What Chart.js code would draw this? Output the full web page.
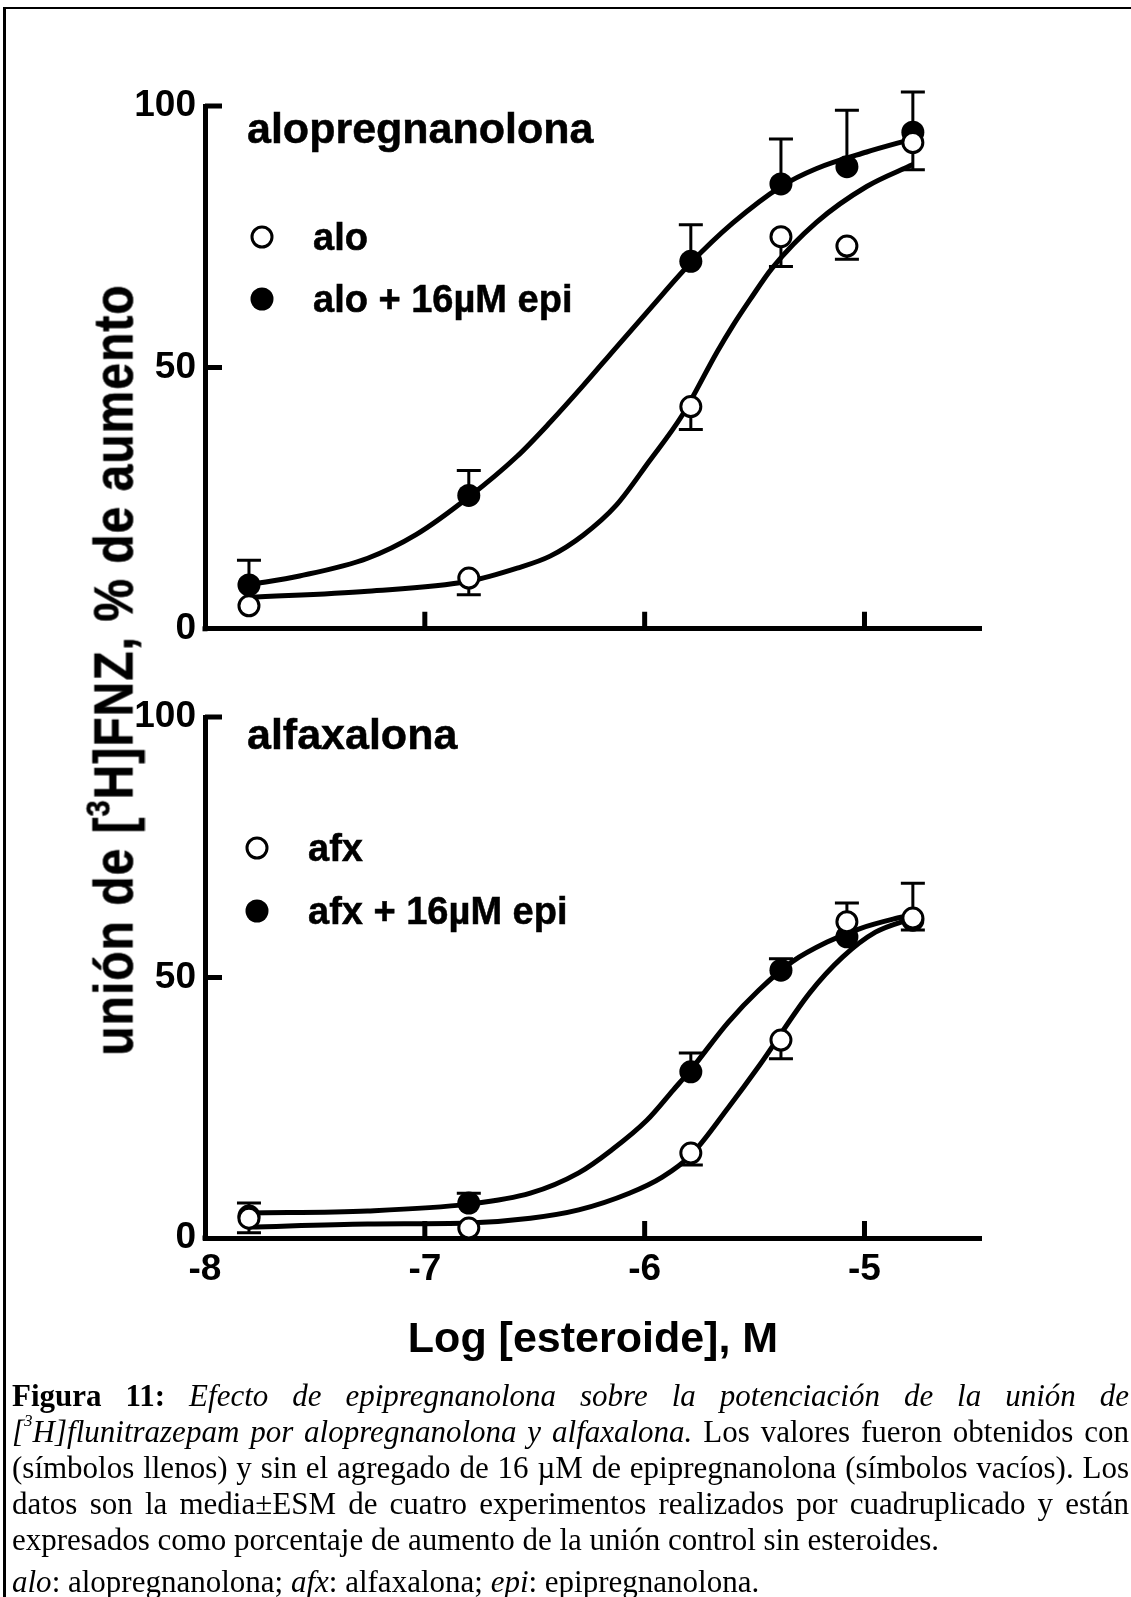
<!DOCTYPE html>
<html>
<head>
<meta charset="utf-8">
<script src="https://cdn.jsdelivr.net/npm/chart.js@4.4.1/dist/chart.umd.min.js"></script>
<style>
  html, body { margin: 0; padding: 0; background: #fff; }
  #page { position: relative; width: 1131px; height: 1597px; overflow: hidden; background: #fff; color: #000;
          font-family: 'Liberation Sans', Arial, Helvetica, sans-serif; }
  canvas { position: absolute; left: 0; }
  .t { position: absolute; white-space: nowrap; font-weight: bold; line-height: 1; transform: translateY(-50%);
       -webkit-text-stroke: 0.5px #000; }
  .ptitle { font-size: 43px; }
  .leg { font-size: 38px; }
  .mk { position: absolute; border-radius: 50%; box-sizing: border-box; transform: translate(-50%, -50%); }
  .mk.open { width: 23px; height: 23px; border: 3px solid #000; background: #fff; }
  .mk.fill { width: 23px; height: 23px; background: #000; }
  #ytitle { position: absolute; left: 114px; top: 670px; white-space: nowrap; font-weight: bold; font-size: 48px;
            letter-spacing: 1px; line-height: 1; -webkit-text-stroke: 0.5px #000;
            transform: translate(-50%, -50%) rotate(-90deg) scale(1, 1.15); }
  #ytitle sup { font-size: 0.6em; position: relative; top: -0.15em; vertical-align: top; line-height: 1; }
  #caption { position: absolute; left: 12px; top: 1378px; width: 1117px; font-family: 'Liberation Serif', 'Times New Roman', serif;
             font-size: 31px; line-height: 36px; }
  #caption .j { text-align: justify; text-align-last: justify; }
  #caption .l { text-align: left; }
  #caption sup { font-size: 0.55em; vertical-align: top; position: relative; top: -0.1em; line-height: 1; }
  .bline { position: absolute; background: #000; }
</style>
</head>
<body>
<div id="page">
  <canvas id="cTop" width="1131" height="660" style="top:0px"></canvas>
  <canvas id="cBot" width="1131" height="740" style="top:660px"></canvas>

  <div class="bline" style="left:4px; top:7px; width:1127px; height:2px;"></div>
  <div class="bline" style="left:3px; top:7px; width:3px; height:1590px;"></div>

  <div class="t ptitle" style="left:247px; top:128px;">alopregnanolona</div>
  <div class="mk open" style="left:262px; top:237px;"></div>
  <div class="t leg" style="left:313px; top:237px;">alo</div>
  <div class="mk fill" style="left:262px; top:299px;"></div>
  <div class="t leg" style="left:313px; top:299px;">alo + 16µM epi</div>

  <div class="t ptitle" style="left:247px; top:734px;">alfaxalona</div>
  <div class="mk open" style="left:257px; top:848px;"></div>
  <div class="t leg" style="left:308px; top:848px;">afx</div>
  <div class="mk fill" style="left:257px; top:911px;"></div>
  <div class="t leg" style="left:308px; top:911px;">afx + 16µM epi</div>

  <div id="ytitle">unión de [<sup>3</sup>H]FNZ, % de aumento</div>

  <div id="caption">
    <div class="j"><b>Figura 11:</b> <i>Efecto de epipregnanolona sobre la potenciación de la unión de</i></div>
    <div class="j"><i>[<sup>3</sup>H]flunitrazepam por alopregnanolona y alfaxalona.</i> Los valores fueron obtenidos con</div>
    <div class="j">(símbolos llenos) y sin el agregado de 16 µM de epipregnanolona (símbolos vacíos). Los</div>
    <div class="j">datos son la media±ESM de cuatro experimentos realizados por cuadruplicado y están</div>
    <div class="l">expresados como porcentaje de aumento de la unión control sin esteroides.</div>
    <div class="l" style="margin-top:6px;"><i>alo</i>: alopregnanolona; <i>afx</i>: alfaxalona; <i>epi</i>: epipregnanolona.</div>
  </div>
</div>

<script>
// ---------- axis ticks ----------
const xTickValues = [-8, -7, -6, -5];
const xTickLabels = ['-8', '-7', '-6', '-5'];
const yTickValues = [0, 50, 100];
const yTickLabels = ['0', '50', '100'];

// ---------- measured log concentrations ----------
const logConc = [-7.80, -6.80, -5.79, -5.38, -5.08, -4.78];

// ---------- top panel: alopregnanolona ----------
const aloMean      = [4.4, 9.7, 42.5, 75.0, 73.2, 93.0];
const aloErrUp     = [0, 0, 0, 0, 0, 0];
const aloErrDown   = [0, 3.2, 4.4, 5.7, 2.5, 5.2];
const aloEpiMean   = [8.4, 25.5, 70.3, 85.1, 88.4, 95.0];
const aloEpiErrUp  = [4.7, 4.8, 7.0, 8.6, 10.8, 7.7];
const aloEpiErrDown= [0, 0, 0, 0, 0, 0];

// fitted curves
const aloFitX    = [-7.80, -7.26, -6.80, -6.58, -6.43, -6.28, -6.13, -5.98, -5.83, -5.67, -5.60, -5.52, -5.42, -5.22, -4.99, -4.78];
const aloFitY    = [6.0, 7.2, 9.1, 11.6, 13.9, 17.9, 23.6, 32.0, 40.8, 53.0, 57.9, 63.0, 69.0, 77.7, 84.6, 88.8];
const aloEpiFitX = [-7.80, -7.57, -7.26, -7.04, -6.80, -6.58, -6.43, -6.28, -6.13, -5.98, -5.79, -5.60, -5.38, -5.22, -4.99, -4.78];
const aloEpiFitY = [8.4, 10.1, 13.5, 18.0, 25.2, 33.0, 39.5, 46.5, 53.8, 61.0, 70.0, 77.6, 84.6, 88.0, 91.2, 93.7];

// ---------- bottom panel: alfaxalona ----------
const afxMean      = [3.8, 1.9, 16.3, 38.0, 60.7, 61.4];
const afxErrUp     = [2.9, 0, 0, 0, 3.6, 6.7];
const afxErrDown   = [2.8, 0, 2.3, 3.6, 0, 2.3];
const afxEpiMean   = [4.2, 6.7, 31.9, 51.4, 57.8, 61.0];
const afxEpiErrUp  = [0, 1.9, 3.6, 2.2, 0, 0];
const afxEpiErrDown= [0, 0, 0, 0, 0, 0];

const afxFitX    = [-7.80, -7.26, -6.80, -6.52, -6.30, -6.07, -5.92, -5.79, -5.62, -5.48, -5.25, -5.10, -4.95, -4.78];
const afxFitY    = [2.1, 2.7, 2.9, 3.8, 5.4, 8.6, 11.7, 15.9, 25.0, 33.0, 47.0, 53.9, 58.7, 61.4];
const afxEpiFitX = [-7.80, -7.26, -6.80, -6.52, -6.30, -6.15, -5.99, -5.87, -5.79, -5.62, -5.48, -5.33, -5.17, -5.02, -4.87, -4.78];
const afxEpiFitY = [4.8, 5.2, 6.5, 8.6, 12.5, 16.9, 22.6, 28.4, 32.3, 41.4, 47.6, 53.0, 56.8, 59.4, 61.2, 62.0];

// ---------- helpers ----------
const FONT = "'Liberation Sans', Arial, Helvetica, sans-serif";
const pts = (xs, ys) => xs.map((x, i) => ({ x: x, y: ys[i] }));

const errorBars = {
  id: 'errorBars',
  beforeDatasetDraw(chart, args) {
    const ds = chart.data.datasets[args.index];
    if (!ds.errUp && !ds.errDown) return;
    const ctx = chart.ctx, xs = chart.scales.x, ys = chart.scales.y;
    ctx.save();
    ctx.strokeStyle = '#000';
    ctx.lineWidth = 3;
    ds.data.forEach((p, i) => {
      const px = xs.getPixelForValue(p.x), py = ys.getPixelForValue(p.y);
      [[ds.errUp, 1], [ds.errDown, -1]].forEach(([arr, s]) => {
        const e = arr ? arr[i] : 0;
        if (!e) return;
        const ey = ys.getPixelForValue(p.y + s * e);
        ctx.beginPath();
        ctx.moveTo(px, py); ctx.lineTo(px, ey);
        ctx.moveTo(px - 12, ey); ctx.lineTo(px + 12, ey);
        ctx.stroke();
      });
    });
    ctx.restore();
  }
};

const innerTicks = {
  id: 'innerTicks',
  beforeDatasetsDraw(chart) {
    const ctx = chart.ctx, a = chart.chartArea, xs = chart.scales.x, ys = chart.scales.y;
    ctx.save();
    ctx.strokeStyle = '#000';
    ctx.lineWidth = 5;
    ctx.beginPath();
    xTickValues.forEach(v => {
      if (v === xs.min) return;
      const px = xs.getPixelForValue(v);
      ctx.moveTo(px, a.bottom); ctx.lineTo(px, a.bottom - 17);
    });
    yTickValues.forEach(v => {
      if (v === ys.min) return;
      const py = ys.getPixelForValue(v);
      ctx.moveTo(a.left, py); ctx.lineTo(a.left + 17, py);
    });
    ctx.stroke();
    ctx.fillStyle = '#000';
    ctx.fillRect(a.left - 2.5, a.bottom - 2.5, 5, 5);
    ctx.restore();
  }
};

function makePanel(canvasId, openMean, openUp, openDown, fillMean, fillUp, fillDown, openFitX, openFitY, fillFitX, fillFitY, padTop, padBottom, showX) {
  const curve = (xs, ys, order) => ({
    type: 'line', data: pts(xs, ys), showLine: true, pointRadius: 0, borderColor: '#000', borderWidth: 5,
    cubicInterpolationMode: 'monotone', fill: false, order: order, clip: false
  });
  return new Chart(document.getElementById(canvasId), {
    type: 'line',
    data: {
      datasets: [
        curve(openFitX, openFitY, 4),
        curve(fillFitX, fillFitY, 3),
        { data: pts(logConc, fillMean), showLine: false, pointRadius: 11.5, pointBorderWidth: 0,
          pointBackgroundColor: '#000', pointBorderColor: '#000', errUp: fillUp, errDown: fillDown, order: 2, clip: false },
        { data: pts(logConc, openMean), showLine: false, pointRadius: 10, pointBorderWidth: 3,
          pointBackgroundColor: '#fff', pointBorderColor: '#000', errUp: openUp, errDown: openDown, order: 1, clip: false }
      ]
    },
    options: {
      responsive: false, animation: false, devicePixelRatio: 1,
      layout: { padding: { left: 105, right: 150, top: padTop, bottom: padBottom } },
      plugins: { legend: { display: false }, tooltip: { enabled: false } },
      scales: {
        x: {
          type: 'linear', min: -8, max: -4.47,
          grid: { display: false, drawTicks: false },
          border: { display: true, color: '#000', width: 5 },
          ticks: { display: showX, color: '#000', padding: 10, font: { family: FONT, size: 37, weight: 'bold' },
                   callback: (v) => xTickLabels[xTickValues.indexOf(v)] },
          title: { display: showX, text: 'Log [esteroide], M', color: '#000',
                   font: { family: FONT, size: 43, weight: 'bold' }, padding: { top: 0, bottom: 12 } },
          afterBuildTicks: (s) => { s.ticks = xTickValues.map(v => ({ value: v })); },
          afterFit: (s) => { s.height = showX ? 140 : 0; }
        },
        y: {
          type: 'linear', min: 0, max: 100,
          grid: { display: false, drawTicks: false },
          border: { display: true, color: '#000', width: 5 },
          ticks: { color: '#000', padding: 9, font: { family: FONT, size: 37, weight: 'bold' },
                   callback: (v) => yTickLabels[yTickValues.indexOf(v)] },
          afterBuildTicks: (s) => { s.ticks = yTickValues.map(v => ({ value: v })); },
          afterFit: (s) => { s.width = 100; }
        }
      }
    },
    plugins: [errorBars, innerTicks]
  });
}

makePanel('cTop', aloMean, aloErrUp, aloErrDown, aloEpiMean, aloEpiErrUp, aloEpiErrDown,
          aloFitX, aloFitY, aloEpiFitX, aloEpiFitY, 106, 29, false);
makePanel('cBot', afxMean, afxErrUp, afxErrDown, afxEpiMean, afxEpiErrUp, afxEpiErrDown,
          afxFitX, afxFitY, afxEpiFitX, afxEpiFitY, 57, 22, true);
</script>
</body>
</html>
